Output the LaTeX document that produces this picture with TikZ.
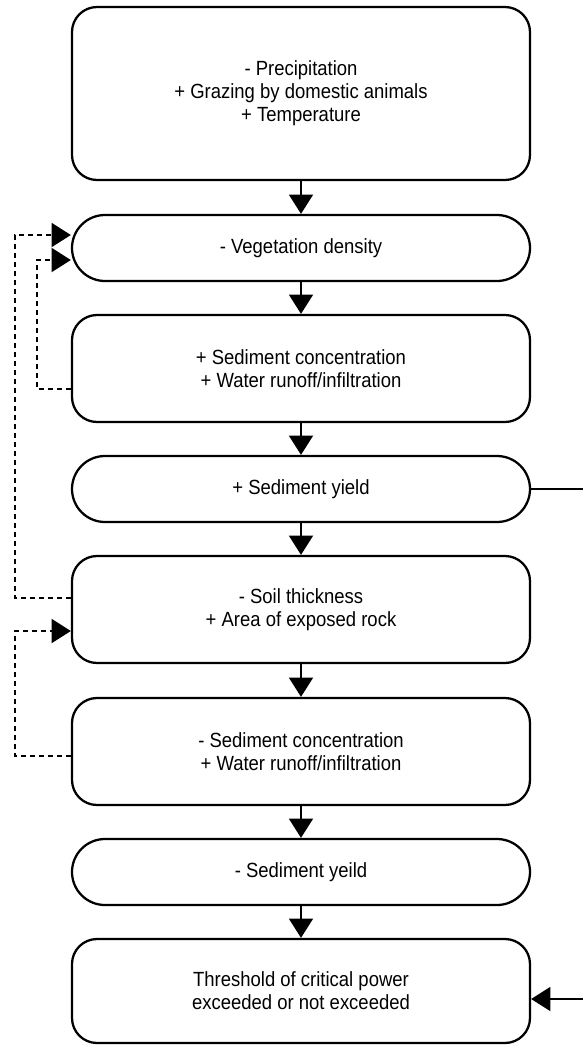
\documentclass[tikz,border=0pt]{standalone}
\usepackage{fontspec}
\setmainfont{Liberation Sans}[FakeStretch=0.9]
\usepackage{tikz}
\usetikzlibrary{arrows.meta}
\usetikzlibrary{calc}

\tikzset{
    box/.style={draw, line width=1.7pt, rounded corners=18.75pt,
        minimum width=343.5pt, minimum height=80.25pt, align=center,
        font=\fontsize{15.4}{17.25}\selectfont},
    pill/.style={box, rounded corners=24.75pt, minimum height=49.5pt},
    flow/.style={line width=1.5pt, -{Triangle[length=14.5pt,width=18pt]}},
    fb/.style={flow, line width=1.6pt, dash pattern=on 3.75pt off 3pt},
}

\begin{document}
\begin{tikzpicture}[x=0.75pt, y=-0.75pt]
    \useasboundingbox (0,0) rectangle (583,1046);

    \node[box, minimum height=129.75pt] (drivers) at (301,93.5) {- Precipitation\\+ Grazing by domestic animals\\+ Temperature};
    \node[pill] (veg) at (301,248) {- Vegetation density};
    \node[box] (sedconc) at (301,368.5) {+ Sediment concentration\\+ Water runoff/infiltration};
    \node[pill] (yield) at (301,489) {+ Sediment yield};
    \node[box] (soil) at (301,609.5) {- Soil thickness\\+ Area of exposed rock};
    \node[box] (sedconcb) at (301,751.5) {- Sediment concentration\\+ Water runoff/infiltration};
    \node[pill] (yieldb) at (301,872) {- Sediment yeild};
    \node[box, minimum height=78pt] (thresh) at (301,991) {Threshold of critical power\\exceeded or not exceeded};

    % main chain
    \foreach \a/\b in {drivers/veg, veg/sedconc, sedconc/yield, yield/soil,
        soil/sedconcb, sedconcb/yieldb, yieldb/thresh}
        \draw[flow] (\a) -- (\b);

    % right side
    \coordinate (out) at (583,489);
    \coordinate (in) at (583,999);
    \draw[line width=1.5pt] (yield) -- (out);
    \draw[flow] (in) -- (thresh.east |- in);

    % feedbacks
    \draw[fb] ($(soil.west)+(0,-11.5)$) -- ++(-56,0) |- ($(veg.west)+(0,-13)$);
    \draw[fb] ($(sedconc.west)+(0,20.5)$) -- ++(-34,0) |- ($(veg.west)+(0,12)$);
    \draw[fb] ($(sedconcb.west)+(0,4.5)$) -- ++(-56,0) |- ($(soil.west)+(0,21.5)$);
\end{tikzpicture}
\end{document}
